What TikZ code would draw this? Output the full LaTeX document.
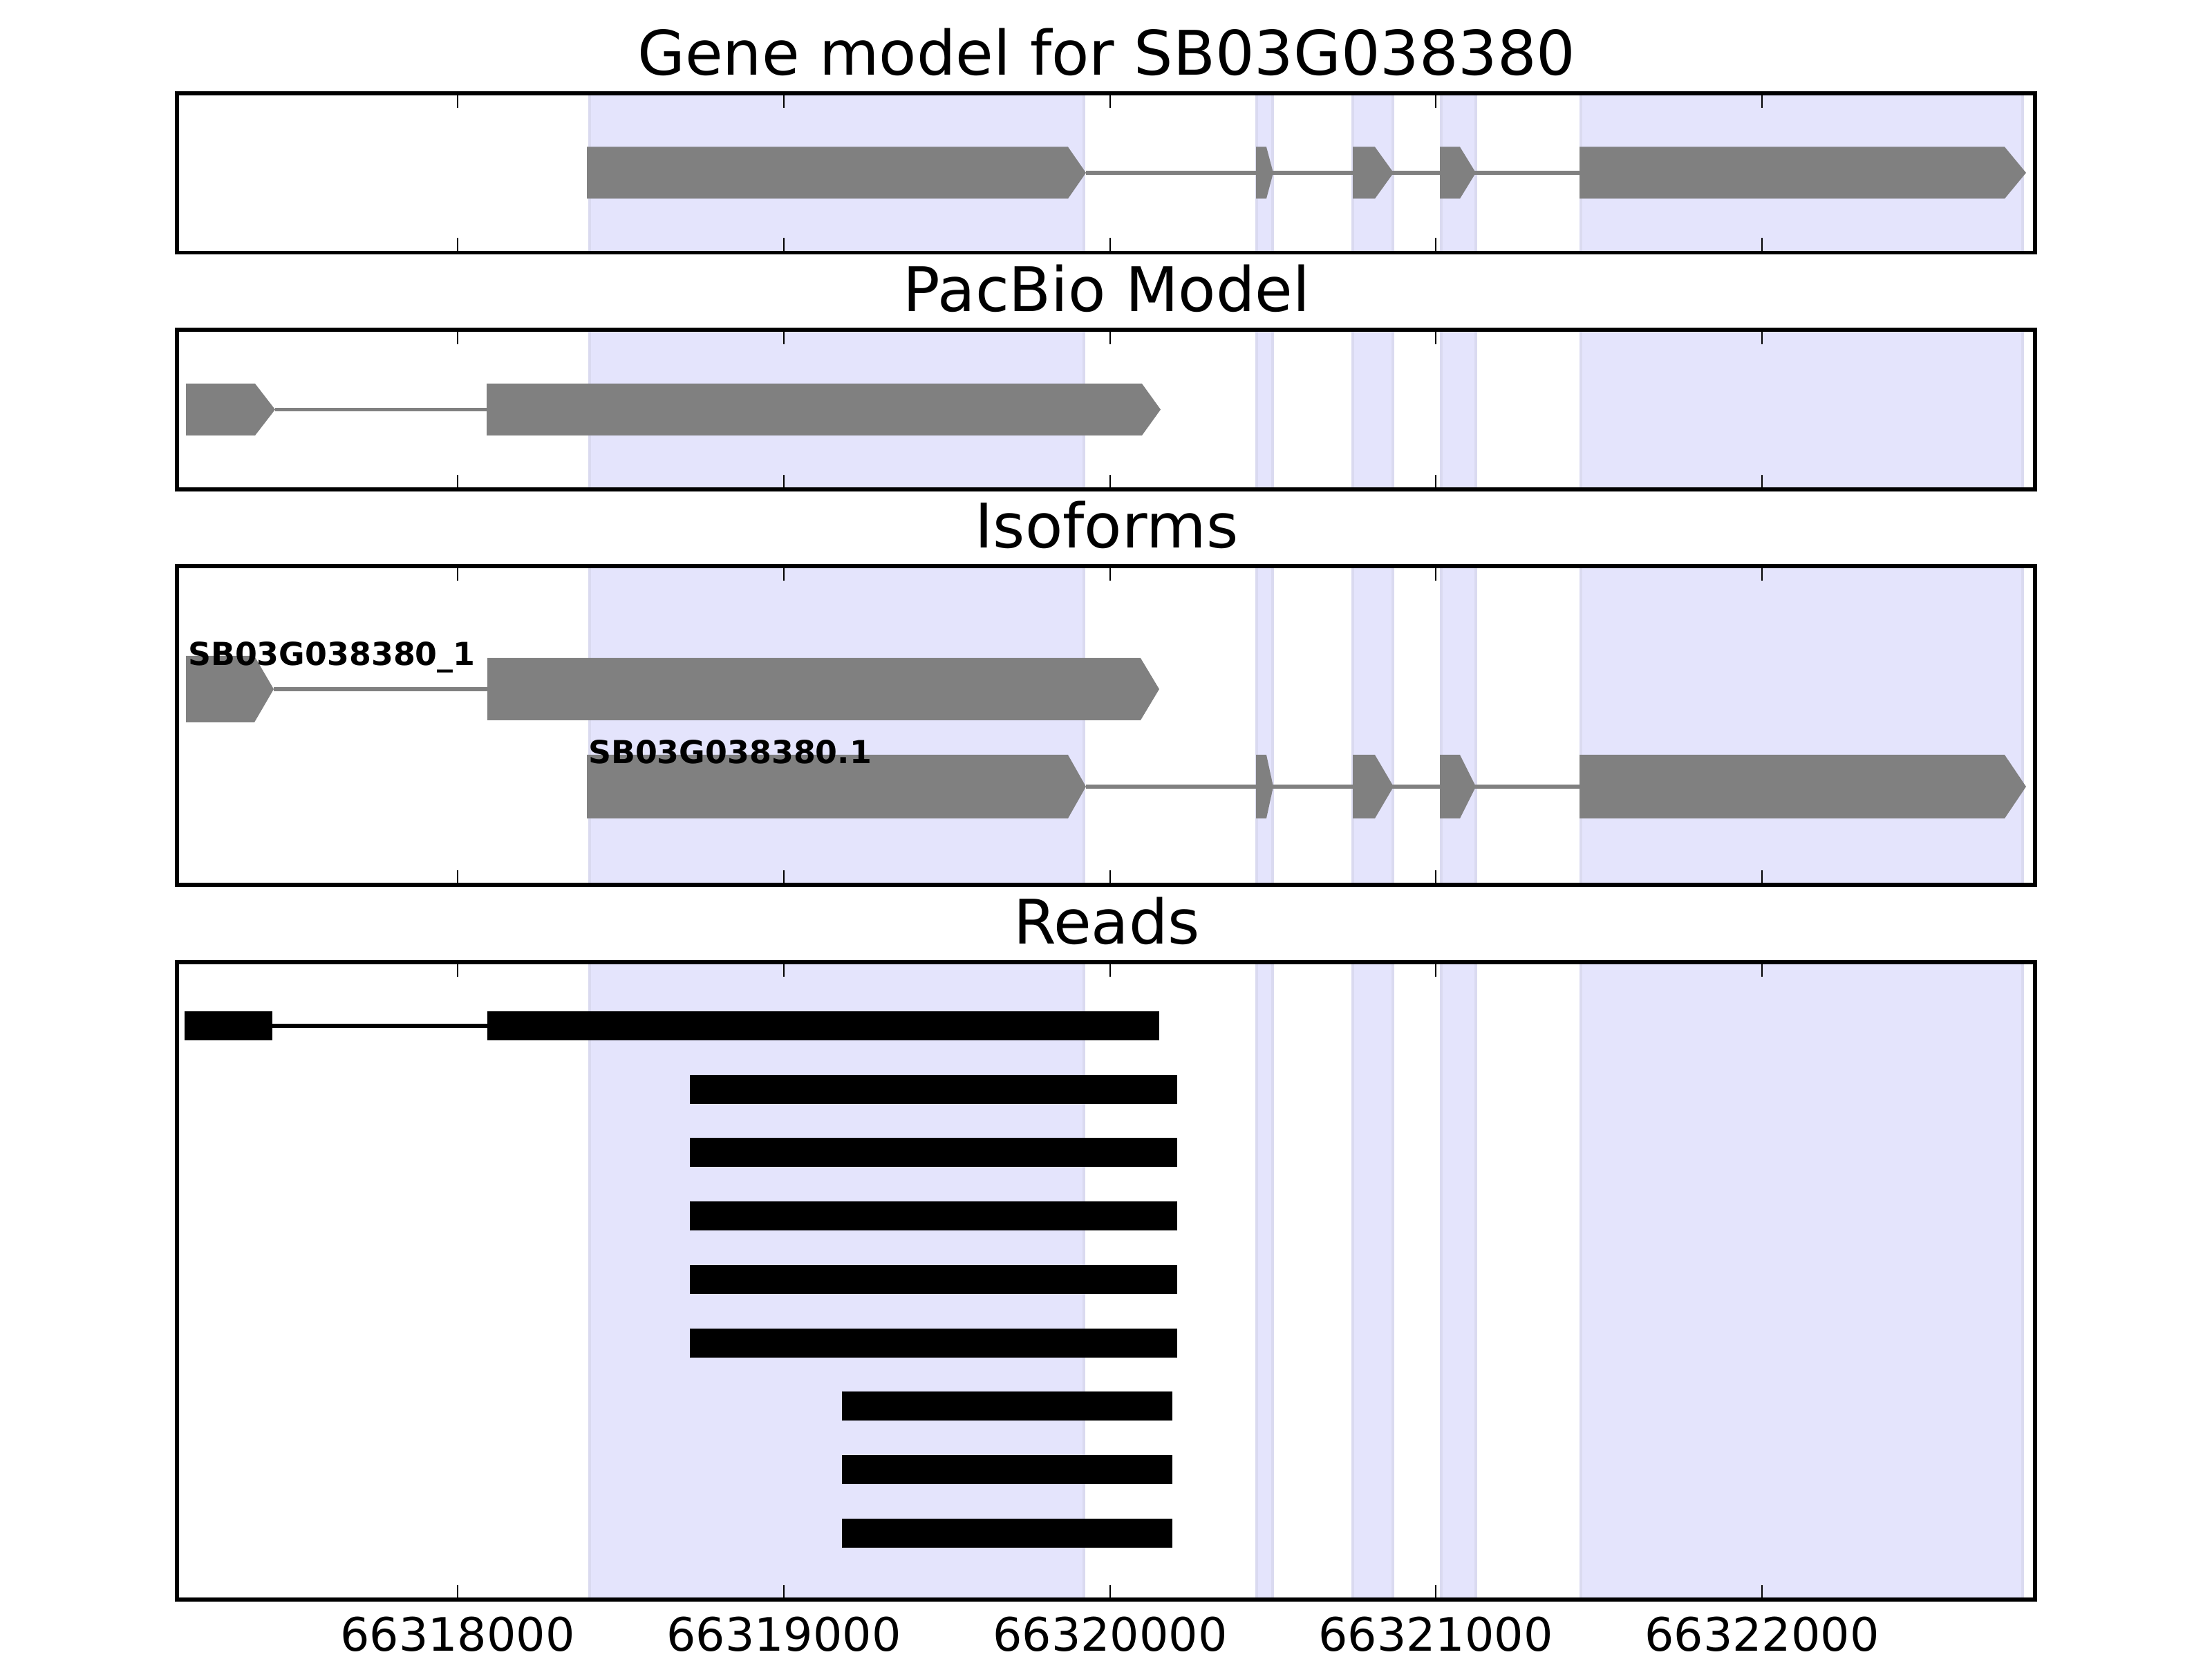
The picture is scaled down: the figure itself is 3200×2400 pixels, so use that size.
\documentclass[tikz,border=0pt]{standalone}
\usepackage{fontspec}
\setmainfont{DejaVu Sans}
\definecolor{spanfill}{RGB}{228,228,252}
\definecolor{spanedge}{RGB}{218,218,240}
\definecolor{genegray}{RGB}{128,128,128}
\newcommand\bluespans[2]{%
  \foreach \a/\b in {853/1568,1818/1841,1957/2015,2085/2135,2287/2926}{%
    \filldraw[fill=spanfill,draw=spanedge,line width=0.6bp] (\a,#1) rectangle (\b,#2);}}
\newcommand\frameax[2]{%
  \foreach \t in {662,1134,1606,2077,2549}{%
    \draw[line width=0.5bp] (\t,#1) -- ++(0,21);
    \draw[line width=0.5bp] (\t,#2) -- ++(0,-21);}
  \draw[line width=1bp] (256,#1) rectangle (2944,#2);}
\newcommand\garrow[5]{\fill[genegray] (#1,{#4-#5}) -- (#2,{#4-#5}) -- (#3,#4) -- (#2,{#4+#5}) -- (#1,{#4+#5}) -- cycle;}
\newcommand\genemodelrow[2]{%
  \draw[genegray,line width=1bp] (1571,#1) -- (2285,#1);
  \garrow{849}{1545}{1571}{#1}{#2}
  \garrow{1817}{1832}{1842}{#1}{#2}
  \garrow{1957}{1989}{2016}{#1}{#2}
  \garrow{2083}{2112}{2135}{#1}{#2}
  \garrow{2285}{2900}{2931}{#1}{#2}}
\newcommand\readbar[3]{\fill[black] (#1,{#3-21}) rectangle (#2,{#3+21});}
\tikzset{
  ttl/.style={anchor=base,inner sep=0pt,font=\fontsize{16bp}{19bp}\selectfont},
  ticklab/.style={anchor=base,inner sep=0pt,font=\fontsize{12bp}{14bp}\selectfont},
  isolab/.style={anchor=base west,inner sep=0pt,font=\bfseries\fontsize{8.25bp}{10bp}\selectfont}
}
\begin{document}
\begin{tikzpicture}[x=0.18bp,y=-0.18bp]
\useasboundingbox (0,0) rectangle (3200,2400);
\fill[white] (0,0) rectangle (3200,2400);

% ---------- Panel 1: Gene model ----------
\bluespans{135}{365.5}
\genemodelrow{250}{37.5}
\frameax{135}{365.5}
\node[ttl] (t1) at (1601,109) {Gene model for SB03G038380};

% ---------- Panel 2: PacBio ----------
\bluespans{477}{708}
\draw[genegray,line width=1bp] (398,592.5) -- (704,592.5);
\garrow{269}{369}{398}{592.5}{37.5}
\garrow{704}{1652}{1679}{592.5}{37.5}
\frameax{477}{708}
\node[ttl] (t2) at (1601,451) {PacBio Model};

% ---------- Panel 3: Isoforms ----------
\bluespans{819}{1280}
\draw[genegray,line width=1bp] (396,997) -- (705,997);
\garrow{269}{368}{396}{997}{48}
\garrow{705}{1650}{1677}{997}{45}
\genemodelrow{1138}{46}
\node[isolab] (iso1) at (271,963) {SB03G038380\_1};
\node[isolab] (iso2) at (850,1105) {SB03G038380.1};
\frameax{819}{1280}
\node[ttl] (t3) at (1601,793) {Isoforms};

% ---------- Panel 4: Reads ----------
\bluespans{1392}{2314}
\draw[black,line width=1bp] (394,1484) -- (705,1484);
\readbar{267}{394}{1484}
\readbar{705}{1677}{1484}
\foreach \i in {1,...,5}{\readbar{998}{1703}{1484+91.75*\i}}
\foreach \i in {6,7,8}{\readbar{1218}{1696}{1484+91.75*\i}}
\frameax{1392}{2314}
\node[ttl] (t4) at (1601,1366) {Reads};

% ---------- Tick labels ----------
\node[ticklab] (k1) at (662,2389) {66318000};
\node[ticklab] (k2) at (1134,2389) {66319000};
\node[ticklab] (k3) at (1606,2389) {66320000};
\node[ticklab] (k4) at (2077,2389) {66321000};
\node[ticklab] (k5) at (2549,2389) {66322000};
\end{tikzpicture}
\end{document}
